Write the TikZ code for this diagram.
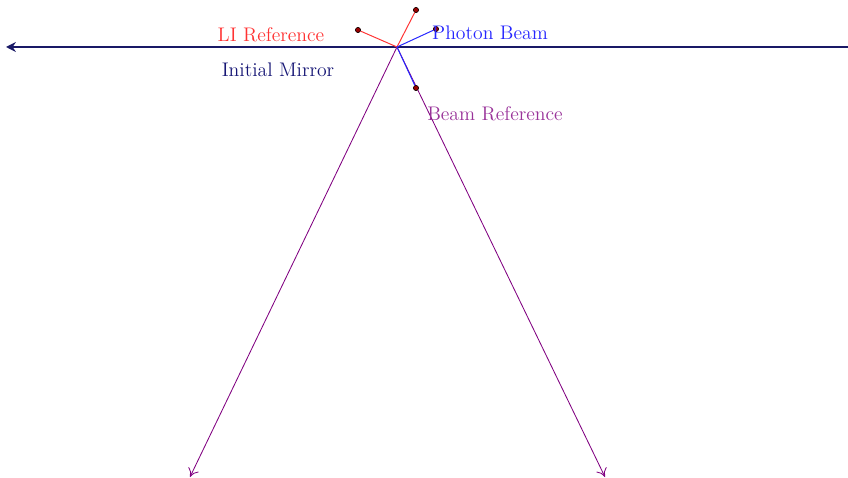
\documentclass[tikz,border=0pt]{standalone}
\usepackage{tikz}
\usetikzlibrary{arrows.meta}

\definecolor{mirrorblue}{RGB}{25,25,102}
\definecolor{lired}{RGB}{255,51,51}
\definecolor{beamblue}{RGB}{38,38,255}
\definecolor{refpurple}{RGB}{128,0,128}
\definecolor{labpurple}{RGB}{153,51,153}

\tikzset{
  pt/.style={circle,draw=black,fill=red!60!black,inner sep=0pt,minimum size=3.6pt,line width=0.3pt},
  lab/.style={outer sep=0pt,font=\fontsize{14}{16}\selectfont}
}

\begin{document}
\begin{tikzpicture}[x=0.025cm,y=-0.025cm]
\useasboundingbox (0,0) rectangle (848,478);

\coordinate (O) at (397,47);
\coordinate (mL) at (6,47);
\coordinate (mR) at (848,47);
\coordinate (aL) at (190,477);
\coordinate (aR) at (605,477);

% mirror
\draw [line width=1.4pt,mirrorblue,-{Stealth[length=7pt,width=7pt]}] (mR) -- (mL);

% reflected beams
\draw [line width=0.6pt,refpurple,-{To[length=6pt,width=8pt]}] (O) -- (aL);
\draw [line width=0.6pt,refpurple,-{To[length=6pt,width=8pt]}] (O) -- (aR);

% references
\node[pt] (l1) at (358,30) {};
\node[pt] (l2) at (416,10) {};
\node[pt] (p1) at (436,29) {};
\node[pt] (b1) at (416,88) {};

\draw [line width=0.7pt,lired] (O) -- (l1);
\draw [line width=0.7pt,lired] (O) -- (l2);
\draw [line width=0.7pt,beamblue] (O) -- (p1);
\draw [line width=0.7pt,beamblue] (O) -- (b1);

\node[pt] at (l1) {};
\node[pt] at (l2) {};
\node[pt] at (p1) {};
\node[pt] at (b1) {};

\node[lab,text=lired] (tli) at (271,35) {LI Reference};
\node[lab,text=beamblue] (tpb) at (490,33) {Photon Beam};
\node[lab,text=mirrorblue!90!blue] (tim) at (278,70) {Initial Mirror};
\node[lab,text=labpurple] (tbr) at (495,114) {Beam Reference};
\end{tikzpicture}
\end{document}
